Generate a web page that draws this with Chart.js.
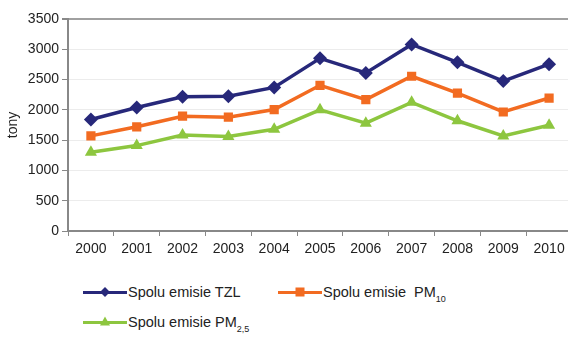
<!DOCTYPE html>
<html>
<head>
<meta charset="utf-8">
<script src="https://cdn.jsdelivr.net/npm/chart.js@4"></script>
<style>
  html, body { margin: 0; padding: 0; background: #fff; overflow: hidden; }
  body { width: 568px; height: 339px; position: relative; font-family: "Liberation Sans", Arial, sans-serif; }
  #wrap { position: absolute; left: 0; top: 0; width: 579px; height: 268px; }
  .leg { position: absolute; display: flex; align-items: center; font-size: 14.5px; color: #222; white-space: nowrap; }
  .leg .ln { position: relative; width: 44px; height: 3px; margin-right: 1px; flex: none; }
  .leg .mk { position: absolute; left: 50%; top: 50%; }
  .leg sub { font-size: 9px; vertical-align: -5px; line-height: 0; }
</style>
</head>
<body>
<div id="wrap"><canvas id="chart"></canvas></div>

<div class="leg" style="left:83px; top:284px;">
  <span class="ln" style="background:#27287a"><span class="mk" style="width:7px;height:7px;background:#27287a;transform:translate(-50%,-50%) rotate(45deg)"></span></span><span>Spolu emisie TZL</span>
</div>
<div class="leg" style="left:278px; top:284px;">
  <span class="ln" style="background:#f26b21"><span class="mk" style="width:9px;height:9px;background:#f26b21;transform:translate(-50%,-50%)"></span></span><span>Spolu emisie&nbsp; PM<sub>10</sub></span>
</div>
<div class="leg" style="left:83px; top:314px;">
  <span class="ln" style="background:#8dc63f"><span class="mk" style="width:0;height:0;border-left:5px solid transparent;border-right:5px solid transparent;border-bottom:9px solid #8dc63f;transform:translate(-50%,-60%)"></span></span><span>Spolu emisie PM<sub>2,5</sub></span>
</div>

<script>
// Emisie tuhých znečisťujúcich látok, 2000-2010 (tony)
const years = ["2000", "2001", "2002", "2003", "2004", "2005", "2006", "2007", "2008", "2009", "2010"];
const tzl  = [1840, 2040, 2215, 2225, 2370, 2850, 2610, 3080, 2785, 2475, 2755];
const pm10 = [1570, 1720, 1895, 1880, 2005, 2405, 2170, 2555, 2275, 1965, 2195];
const pm25 = [1300, 1410, 1585, 1560, 1680, 2000, 1780, 2125, 1820, 1570, 1745];
const yTicks = [0, 500, 1000, 1500, 2000, 2500, 3000, 3500];

const font = { family: "'Liberation Sans', Arial, sans-serif", size: 14 };

function series(label, data, color, style, radius) {
    return {
        label,
        data,
        borderColor: color,
        backgroundColor: color,
        borderWidth: 3.5,
        pointStyle: style,
        pointRadius: radius,
        pointHoverRadius: radius,
        pointBorderWidth: 0,
        tension: 0,
    };
}

new Chart(document.getElementById("chart"), {
    type: "line",
    data: {
        labels: years,
        datasets: [
            series("Spolu emisie TZL", tzl, "#27287a", "rectRot", 7),
            series("Spolu emisie PM10", pm10, "#f26b21", "rect", 6.5),
            series("Spolu emisie PM2,5", pm25, "#8dc63f", "triangle", 7),
        ],
    },
    options: {
        responsive: true,
        maintainAspectRatio: false,
        animation: false,
        layout: { padding: { top: 19, left: 0, right: 0, bottom: 0 } },
        plugins: { legend: { display: false }, tooltip: { enabled: false } },
        scales: {
            x: {
                offset: true,
                grid: { offset: true, drawOnChartArea: false, drawTicks: true, tickLength: 5, tickColor: "#888" },
                border: { color: "#888", width: 2 },
                ticks: { color: "#222", font, padding: 5, maxRotation: 0, autoSkip: false },
                afterFit: s => { s.height = 37; },
            },
            y: {
                min: 0,
                max: 3500,
                afterBuildTicks: s => { s.ticks = yTicks.map(v => ({ value: v })); },
                grid: {
                    color: c => (c.tick && c.tick.value === 3500 ? "#a0a0a0" : "#ececec"),
                    lineWidth: c => (c.tick && c.tick.value === 3500 ? 2 : 1),
                    tickLength: 6,
                    tickColor: "#888",
                },
                border: { color: "#888", width: 2 },
                ticks: { color: "#222", font, padding: 3, callback: v => String(v) },
                title: { display: true, text: "tony", color: "#222", font, padding: { top: 5, bottom: 0 } },
                afterFit: s => { s.width = 68; },
            },
        },
    },
});
</script>
</body>
</html>
